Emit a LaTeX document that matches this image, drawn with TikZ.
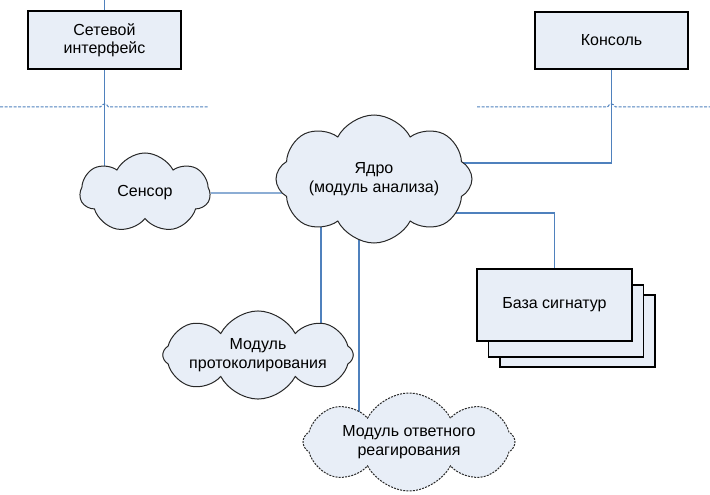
\documentclass[tikz,border=0pt]{standalone}
\usepackage{fontspec}
\setmainfont{Liberation Sans}
\usetikzlibrary{shapes.symbols,backgrounds}
\definecolor{fillc}{RGB}{232,238,247}
\definecolor{linec}{RGB}{79,129,189}
\definecolor{edgec}{RGB}{40,40,40}
\tikzset{
  txt/.style={font=\fontsize{16}{18.5}\selectfont, align=center},
  boxnode/.style={txt, draw=black, line width=1.1pt, fill=fillc, inner sep=0pt},
  cloudnode/.style={txt, cloud, cloud ignores aspect, cloud puff arc=125, draw=edgec, line width=1pt, fill=fillc, inner sep=0pt},
  conn/.style={draw=linec, line width=1.1pt},
  sepline/.style={draw=linec, line width=1pt, dash pattern=on 3pt off 1.5pt},
}
\begin{document}
\begin{tikzpicture}[x=1pt,y=-1pt]
\useasboundingbox (0,0) rectangle (710,495);

% boxes
\node[boxnode, minimum width=153pt, minimum height=58pt] (netif) at (104.5,40) {Сетевой\\интерфейс};
\node[boxnode, minimum width=153pt, minimum height=57pt] (console) at (611.5,40.5) {Консоль};
\node[boxnode, minimum width=155pt, minimum height=72pt] (base3) at (577.5,331) {};
\node[boxnode, minimum width=155pt, minimum height=72pt] (base2) at (566,321) {};
\node[boxnode, minimum width=155pt, minimum height=72pt] (base) at (554.5,305) {База сигнатур};

% clouds
\node[cloudnode, cloud puffs=7, minimum width=130pt, minimum height=80pt] (sensor) at (145,193) {Сенсор};
\node[cloudnode, cloud puffs=8, minimum width=196pt, minimum height=128pt] (yadro) at (374,179) {Ядро\\(модуль анализа)};
\node[cloudnode, cloud puffs=8, minimum width=177pt, minimum height=80pt] (prot) at (258,355) {Модуль\\протоколирования};
\node[cloudnode, cloud puffs=8, minimum width=212pt, minimum height=98pt, dash pattern=on 2pt off 1.2pt] (otv) at (409,442) {Модуль ответного\\реагирования};

% connectors
\begin{scope}[on background layer]
  \coordinate (top1) at (104.5,0);
  \coordinate (c1) at (611.5,163);
  \coordinate (c2) at (554.5,213);
  \coordinate (c3) at (321,317);
  \coordinate (c4) at (359,407);
  \draw[conn] (netif.north) -- (top1);
  \draw[conn] (netif.south) -- (netif.south |- sensor);
  \draw[conn] (sensor) -- (sensor -| yadro);
  \draw[conn] (console.south) -- (c1) -- (c1 -| yadro);
  \draw[conn] (base.north) -- (c2) -- (c2 -| yadro);
  \draw[conn] (c3 |- yadro) -- (c3 |- prot);
  \draw[conn] (c4 |- yadro) -- (c4 |- otv);
\end{scope}

% separators
\draw[sepline] (0,107) -- (100.5,107) .. controls (102.5,103) and (106.5,103) .. (108.5,107) -- (208,107);
\draw[sepline] (477,107) -- (607.5,107) .. controls (609.5,103) and (613.5,103) .. (615.5,107) -- (710,107);
\end{tikzpicture}
\end{document}
